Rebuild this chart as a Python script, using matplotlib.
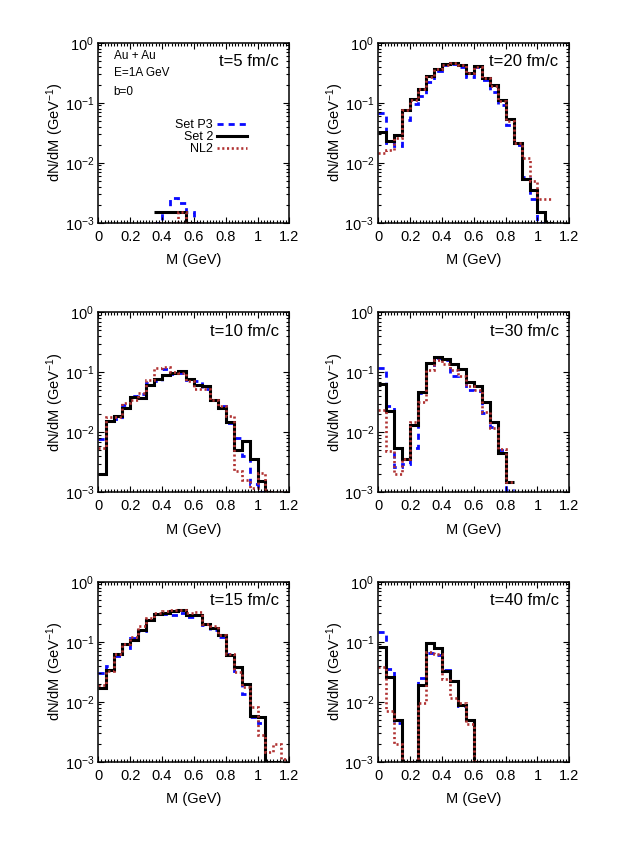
import numpy as np
import matplotlib
matplotlib.use('Agg')
import matplotlib.pyplot as plt
from matplotlib.ticker import MultipleLocator, LogLocator, FuncFormatter, NullFormatter

plt.rcParams['font.family'] = 'Liberation Sans'
plt.rcParams['mathtext.fontset'] = 'custom'
plt.rcParams['mathtext.rm'] = 'Liberation Sans'
plt.rcParams['mathtext.default'] = 'regular'

n = np.nan
# bin edges 0 ... 1.2 GeV, width 0.05; 0 = below axis, nan = not drawn
edges = np.round(np.arange(0, 1.2001, 0.05), 2)

# t = 5 fm/c
t5_p3 = [n, n, n, n, n, n, n, 0, 0.0015, 0.0026, 0.0021, 0.0015, 0, n, n, n, n, n, n, n, n, n, n, n]
t5_s2 = [n, n, n, n, n, n, n, 0.0015, 0.0015, 0.0015, 0.0015, 0, n, n, n, n, n, n, n, n, n, n, n, n]
t5_nl2 = [n, n, n, n, n, n, n, 0, 0, 0, 0.0015, 0, 0, n, n, n, n, n, n, n, n, n, n, n]

# t = 20 fm/c
t20_p3 = [0.068, 0.021, 0.019, 0.051, 0.095, 0.13, 0.224, 0.34, 0.42, 0.45, 0.40, 0.27,
          0.39, 0.24, 0.15, 0.091, 0.0424, 0.0197, 0.0058, 0.0025, 0, n, n, n]
t20_s2 = [0.033, 0.023, 0.0286, 0.077, 0.114, 0.171, 0.278, 0.364, 0.436, 0.464, 0.419, 0.316,
          0.41, 0.261, 0.197, 0.111, 0.053, 0.0215, 0.0054, 0.0035, 0.00149, 0, n, n]
t20_nl2 = [0.0143, 0.0162, 0.0255, 0.075, 0.11, 0.17, 0.27, 0.36, 0.43, 0.46, 0.42, 0.31,
           0.40, 0.26, 0.19, 0.105, 0.05, 0.0215, 0.0121, 0.0049, 0.0025, 0.0025, n, n]

# t = 10 fm/c
t10_p3 = [0.0076, 0.0157, 0.0164, 0.0284, 0.041, 0.0436, 0.067, 0.072, 0.113, 0.094, 0.097, 0.075,
          0.072, 0.052, 0.034, 0.027, 0.0145, 0.0081, 0.00397, 0.0014, 0, 0, n, n]
t10_s2 = [0.002, 0.0157, 0.019, 0.0252, 0.0383, 0.0374, 0.0613, 0.077, 0.0908, 0.0968, 0.104, 0.077,
          0.0613, 0.06, 0.035, 0.0252, 0.0148, 0.005, 0.00707, 0.00356, 0.00154, 0, n, n]
t10_nl2 = [0.0055, 0.0178, 0.0178, 0.0308, 0.034, 0.046, 0.074, 0.12, 0.123, 0.1, 0.097, 0.072,
           0.052, 0.052, 0.035, 0.027, 0.019, 0.0023, 0.0016, 0.0012, 0.0021, 0, 0, 0]

# t = 30 fm/c
t30_p3 = [0.12, 0.0279, 0.0026, 0.003, 0.0055, 0.045, 0.134, 0.17, 0.16, 0.087, 0.113, 0.05,
          0.049, 0.021, 0.0122, 0.005, 0.0011, n, n, n, n, n, n, n]
t30_s2 = [0.065, 0.023, 0.0055, 0.00356, 0.013, 0.0475, 0.1416, 0.182, 0.165, 0.136, 0.113, 0.0678,
          0.06, 0.0316, 0.0148, 0.0046, 0.0015, n, n, n, n, n, n, n]
t30_nl2 = [0.024, 0.0048, 0.002, 0.0036, 0.015, 0.032, 0.11, 0.16, 0.14, 0.11, 0.087, 0.06,
           0.05, 0.0215, 0.0118, 0.0052, 0.0015, n, n, n, n, n, n, n]

# t = 15 fm/c
t15_p3 = [0.03, 0.039, 0.058, 0.079, 0.116, 0.15, 0.233, 0.288, 0.29, 0.28, 0.3, 0.26,
          0.28, 0.19, 0.155, 0.12, 0.062, 0.0325, 0.0134, 0.0055, 0.0044, 0, 0, n]
t15_s2 = [0.0169, 0.0334, 0.0615, 0.09, 0.106, 0.159, 0.233, 0.288, 0.3, 0.327, 0.34, 0.28,
          0.28, 0.197, 0.167, 0.128, 0.059, 0.0385, 0.0197, 0.00575, 0.0055, 0, 0, n]
t15_nl2 = [0.0192, 0.033, 0.0636, 0.09, 0.118, 0.185, 0.25, 0.305, 0.33, 0.34, 0.34, 0.3,
           0.31, 0.2, 0.18, 0.13, 0.063, 0.0315, 0.0173, 0.0081, 0.0028, 0.00146, 0.002, 0.0011]

# t = 40 fm/c
t40_p3 = [0.144, 0.0357, 0.0045, 0, 0, 0.0244, 0.065, 0.06, 0.034, 0.0224, 0.0084, 0.005,
          0, n, n, n, n, n, n, n, n, n, n, n]
t40_s2 = [0.082, 0.026, 0.0049, 0, 0, 0.0189, 0.096, 0.079, 0.0326, 0.0224, 0.0089, 0.005,
          0, n, n, n, n, n, n, n, n, n, n, n]
t40_nl2 = [0.0385, 0.0069, 0.002, 0, 0, 0.0094, 0.067, 0.062, 0.0236, 0.0114, 0.0097, 0.0043,
           0, n, n, n, n, n, n, n, n, n, n, n]

panels = [
    ('t=5 fm/c', t5_p3, t5_s2, t5_nl2),
    ('t=20 fm/c', t20_p3, t20_s2, t20_nl2),
    ('t=10 fm/c', t10_p3, t10_s2, t10_nl2),
    ('t=30 fm/c', t30_p3, t30_s2, t30_nl2),
    ('t=15 fm/c', t15_p3, t15_s2, t15_nl2),
    ('t=40 fm/c', t40_p3, t40_s2, t40_nl2),
]

styles = [
    ('Set P3', dict(color='#0a0aff', linewidth=2.0, linestyle=(0, (2.2, 1.8)))),
    ('Set 2', dict(color='black', linewidth=2.2, linestyle='-')),
    ('NL2', dict(color='#b03232', linewidth=1.9, linestyle=(0, (0.8, 1.0)))),
]


def draw_hist(ax, vals, label, style):
    v = np.array(vals, dtype=float)
    ok = ~np.isnan(v)
    i = 0
    first = True
    while i < len(v):
        if not ok[i]:
            i += 1
            continue
        j = i
        while j < len(v) and ok[j]:
            j += 1
        ax.stairs(np.maximum(v[i:j], 1e-3), edges[i:j + 1], baseline=None,
                  label=label if first else None, **style)
        first = False
        i = j


fig = plt.figure(figsize=(6.29, 8.58), dpi=100)
lefts = [0.1563, 0.6014]
bottoms = [0.7404, 0.4262, 0.1122]
w, h = 0.3037, 0.2098

for k, (tlabel, p3, s2, nl2) in enumerate(panels):
    row, col = k // 2, k % 2
    ax = fig.add_axes([lefts[col], bottoms[row], w, h])
    for (lab, st), vals in zip(styles, [p3, s2, nl2]):
        draw_hist(ax, vals, lab, st)

    ax.set_yscale('log')
    ax.set_xlim(0, 1.2)
    ax.set_ylim(1e-3, 1)
    ax.xaxis.set_major_locator(MultipleLocator(0.2))
    ax.xaxis.set_minor_locator(MultipleLocator(0.02))
    ax.xaxis.set_major_formatter(FuncFormatter(lambda x, p: '%g' % round(x, 2)))
    ax.yaxis.set_major_locator(LogLocator(base=10, numticks=10))
    ax.yaxis.set_minor_locator(LogLocator(base=10, subs=np.arange(2, 10), numticks=20))
    ax.yaxis.set_minor_formatter(NullFormatter())
    ax.yaxis.set_major_formatter(FuncFormatter(lambda y, p: '10$^{%d}$' % round(np.log10(y))))
    ax.tick_params(which='both', direction='in', top=True, right=True, width=0.8)
    ax.tick_params(which='major', length=4.5, labelsize=10.5)
    ax.tick_params(which='minor', length=2.2)
    ax.tick_params(axis='x', pad=5)
    ax.tick_params(axis='y', pad=3)
    for sp in ax.spines.values():
        sp.set_linewidth(1.1)

    ax.set_xlabel('M (GeV)', fontsize=10.5)
    ax.set_ylabel('dN/dM (GeV$^{-1}$)', fontsize=10.5)
    ax.xaxis.set_label_coords(0.5, -0.17)
    ax.yaxis.set_label_coords(-0.168, 0.5)

    ax.text(0.944, 0.894, tlabel, ha='right', va='center', fontsize=12, transform=ax.transAxes)

    if k == 0:
        ax.text(0.08, 0.926, 'Au + Au', ha='left', va='center', fontsize=8.5, transform=ax.transAxes)
        ax.text(0.08, 0.83, 'E=1A GeV', ha='left', va='center', fontsize=8.5, transform=ax.transAxes)
        ax.text(0.08, 0.728, 'b=0', ha='left', va='center', fontsize=8.5, transform=ax.transAxes)
        ax.legend(loc='upper right', bbox_to_anchor=(0.78, 0.575), frameon=False,
                  fontsize=9, markerfirst=False, handlelength=2.45, handletextpad=0.3,
                  labelspacing=0.0, borderpad=0, borderaxespad=0)

fig.savefig('out.png', dpi=100)
